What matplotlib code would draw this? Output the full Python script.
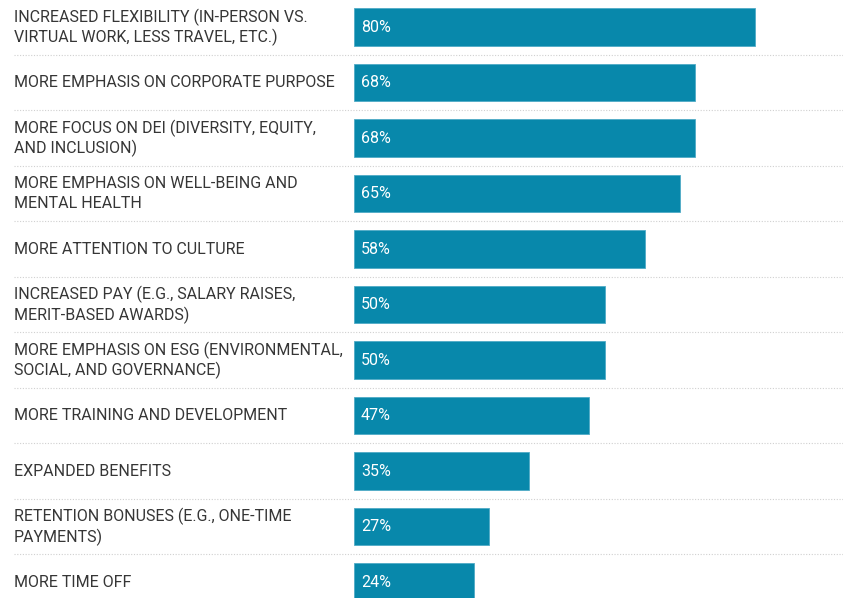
import matplotlib
matplotlib.use("Agg")
import matplotlib.pyplot as plt
from matplotlib import font_manager
from matplotlib.transforms import blended_transform_factory

categories = [
    "INCREASED FLEXIBILITY (IN-PERSON VS.\nVIRTUAL WORK, LESS TRAVEL, ETC.)",
    "MORE EMPHASIS ON CORPORATE PURPOSE",
    "MORE FOCUS ON DEI (DIVERSITY, EQUITY,\nAND INCLUSION)",
    "MORE EMPHASIS ON WELL-BEING AND\nMENTAL HEALTH",
    "MORE ATTENTION TO CULTURE",
    "INCREASED PAY (E.G., SALARY RAISES,\nMERIT-BASED AWARDS)",
    "MORE EMPHASIS ON ESG (ENVIRONMENTAL,\nSOCIAL, AND GOVERNANCE)",
    "MORE TRAINING AND DEVELOPMENT",
    "EXPANDED BENEFITS",
    "RETENTION BONUSES (E.G., ONE-TIME\nPAYMENTS)",
    "MORE TIME OFF",
]
values = [80, 68, 68, 65, 58, 50, 50, 47, 35, 27, 24]
value_labels = [f"{v}%" for v in values]

names = {f.name for f in font_manager.fontManager.ttflist}
family = "DejaVu Sans"
for cand in ["Roboto", "Liberation Sans"]:
    if cand in names:
        family = cand
        break
plt.rcParams["font.family"] = [family, "DejaVu Sans"]

W, H = 843, 598
fig = plt.figure(figsize=(W / 100, H / 100), dpi=100)
ax = fig.add_axes([354 / W, 0, 1 - 354 / W, 1])

bar_color = "#0888ab"
ys = list(range(len(values)))
ax.barh(ys, values, height=0.68, color=bar_color, edgecolor="#4fabc6", linewidth=0.6)

pitch = 55.5
top = -27 / pitch
bottom = (H - 27) / pitch
ax.set_ylim(bottom, top)
ax.set_xlim(0, (W - 354) / 5.01)
ax.axis("off")

line_off = 10.2 / pitch
dy = -0.025
tr = blended_transform_factory(fig.transFigure, ax.transData)
for i, (lab, v, vl) in enumerate(zip(categories, values, value_labels)):
    lines = lab.split("\n")
    n = len(lines)
    for k, line in enumerate(lines):
        y = i + (k - (n - 1) / 2) * 2 * line_off
        ax.text(14 / W, y + dy, line, transform=tr, ha="left", va="center_baseline",
                fontsize=11.5, color="#363636", clip_on=False)
    ax.text(1.4, i + dy, vl, ha="left", va="center_baseline", fontsize=11.5, color="white")
    if i < len(values) - 1:
        ax.plot([14 / W, 1.0], [i + 0.5, i + 0.5], transform=tr, color="#d0d0d0",
                linestyle=(0, (1, 1.5)), linewidth=0.8, clip_on=False)

fig.savefig("out.png", dpi=100)
